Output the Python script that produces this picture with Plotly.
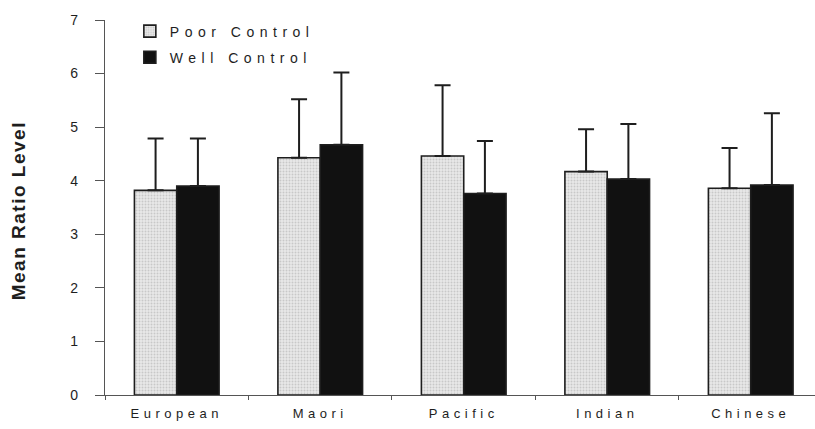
import plotly.graph_objects as go

# Mean ratio level by ethnic group, split by glycaemic control
groups = ["European", "Maori", "Pacific", "Indian", "Chinese"]
poor_mean = [3.82, 4.43, 4.46, 4.17, 3.86]
poor_sd = [0.97, 1.09, 1.32, 0.79, 0.75]
well_mean = [3.90, 4.67, 3.76, 4.03, 3.92]
well_sd = [0.89, 1.35, 0.98, 1.03, 1.34]
y_ticks = [0, 1, 2, 3, 4, 5, 6, 7]

FONT = "Arial, Liberation Sans, sans-serif"
INK = "#1e1e1e"


def spaced(text, px):
    return f'<span style="letter-spacing:{px}px">{text}</span>'


def err(sd):
    return dict(type="data", array=sd, arrayminus=[0] * len(sd), symmetric=False,
                color=INK, thickness=2, width=8)


fig = go.Figure()
fig.add_trace(go.Bar(
    x=groups, y=poor_mean, name=spaced("Poor Control", 5.5),
    legendgroup="a",
    marker=dict(color="#e4e4e4", line=dict(color=INK, width=1.6),
                pattern=dict(shape=".", fgcolor="#a8a8a8", bgcolor="#e8e8e8",
                             size=3, solidity=0.35)),
    error_y=err(poor_sd),
))
fig.add_trace(go.Bar(
    x=groups, y=well_mean, name=spaced("Well Control", 5.5),
    legendgroup="b",
    marker=dict(color="#111111", line=dict(color=INK, width=1.6)),
    error_y=err(well_sd),
))

fig.update_layout(
    width=815, height=429,
    margin=dict(l=105, r=0, t=20, b=34),
    paper_bgcolor="white", plot_bgcolor="white",
    font=dict(family=FONT, color=INK),
    barmode="group", bargap=0.41, bargroupgap=0,
    showlegend=True,
    legend=dict(x=0.035, y=1.012, xanchor="left", yanchor="top",
                bgcolor="rgba(0,0,0,0)", font=dict(size=14, family=FONT, color=INK),
                tracegroupgap=5),
    xaxis=dict(
        range=[-0.5, 4.448],
        tickmode="array", tickvals=groups,
        ticktext=[spaced(g, 4.5) for g in groups],
        tickson="boundaries", ticks="outside", ticklen=4, tickcolor="#555",
        ticklabelstandoff=6,
        showline=True, linecolor="#555", linewidth=1.2,
        showgrid=False, zeroline=False,
        tickfont=dict(size=13, family=FONT, color=INK),
    ),
    yaxis=dict(
        range=[0, 7], tickmode="array", tickvals=y_ticks,
        ticks="outside", ticklen=9, tickcolor="#555",
        ticklabelstandoff=14,
        showline=True, linecolor="#555", linewidth=1.2,
        showgrid=False, zeroline=False,
        tickfont=dict(size=14, family=FONT, color=INK),
    ),
    annotations=[dict(
        text=spaced("<b>Mean Ratio Level</b>", 1.5), textangle=-90,
        xref="paper", yref="paper", x=-0.1225, y=0.49,
        xanchor="center", yanchor="middle", showarrow=False,
        font=dict(size=19, family=FONT, color=INK),
    )],
)

fig.write_html("out.html")
